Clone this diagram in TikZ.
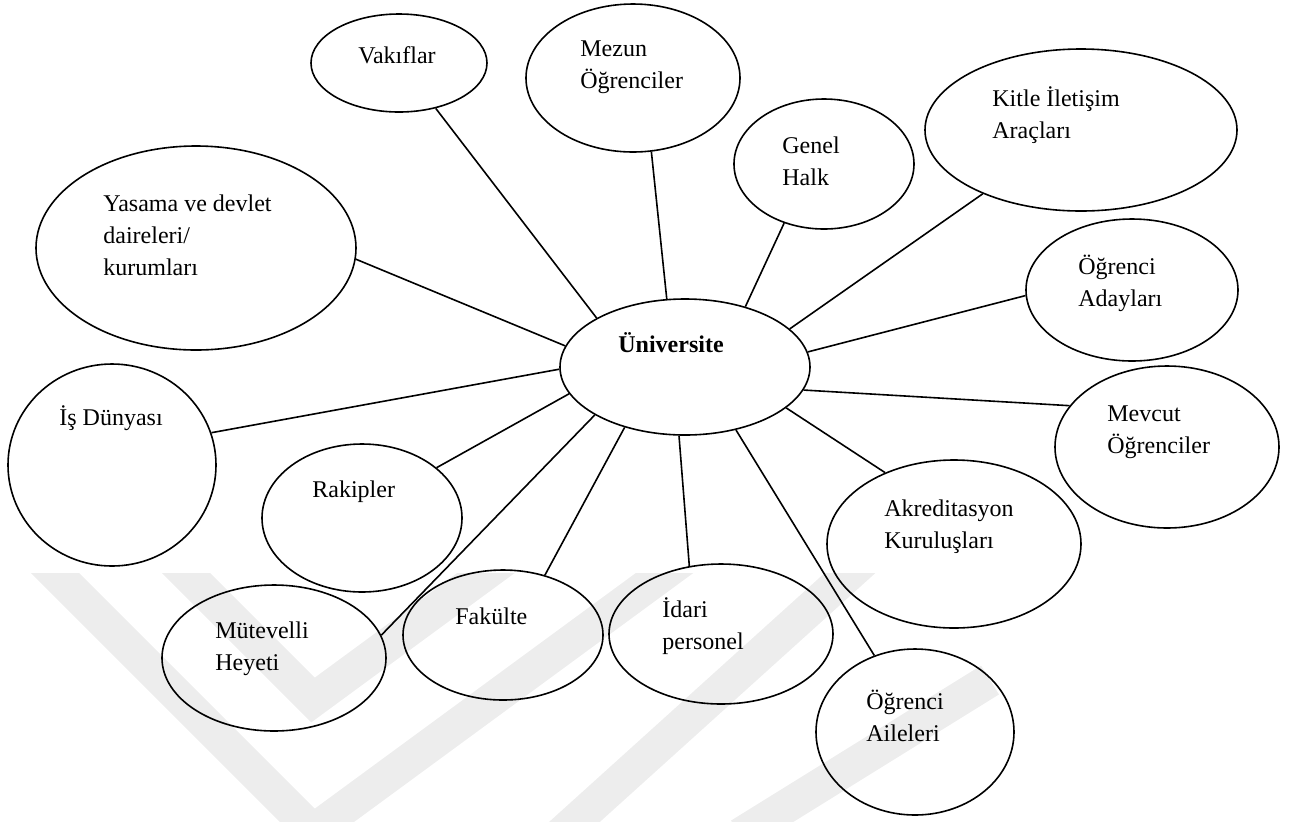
\documentclass[tikz,border=0pt]{standalone}
\usepackage{fontspec}
\setmainfont{Liberation Serif}
\usetikzlibrary{shapes.geometric}

\tikzset{
  stake/.style={draw, ellipse, line width=0.8pt, inner sep=0pt},
  lbl/.style={anchor=west, align=left, inner sep=0pt, font=\fontsize{12}{16}\selectfont},
  link/.style={line width=0.8pt},
  mark stripe/.style={line width=17pt, draw=black!7, line join=miter}
}

\begin{document}
\begin{tikzpicture}
      [x=0.5pt,y=-0.5pt]
      \useasboundingbox (0,0) rectangle (1297,821);
      \begin{scope}
        \clip (0,573) rectangle (1297,821);
        \draw[mark stripe] (0,518) -- (313,831) -- (700,547);
        \draw[mark stripe] (131,518) -- (313,700) -- (520,548);
        \draw[mark stripe] (560,835) -- (870,555);
        \draw[mark stripe] (740,835) -- (990,680);
      \end{scope}

      \node[stake,minimum width=125pt,minimum height=68pt] (uni) at (685,367) {};
      \node[lbl,font=\fontsize{12}{16}\selectfont\bfseries] (uni-t) at (618,343) {Üniversite};

      \node[stake,minimum width=88pt,minimum height=49pt] (vakif) at (399,63) {};
      \node[lbl] (vakif-t) at (358,55) {Vakıflar};
      \node[stake,minimum width=107pt,minimum height=74pt] (mezun) at (633,78) {};
      \node[lbl] (mezun-t) at (580,67) {Mezun\\Öğrenciler};
      \node[stake,minimum width=90pt,minimum height=65pt] (halk) at (824,164) {};
      \node[lbl] (halk-t) at (782,161) {Genel\\Halk};
      \node[stake,minimum width=156pt,minimum height=81pt] (kitle) at (1081,130) {};
      \node[lbl] (kitle-t) at (992,115) {Kitle İletişim\\Araçları};
      \node[stake,minimum width=160pt,minimum height=102pt] (yasama) at (196,248) {};
      \node[lbl] (yasama-t) at (103,235) {Yasama ve devlet\\daireleri/\\kurumları};
      \node[stake,minimum width=106pt,minimum height=71pt] (aday) at (1132,290) {};
      \node[lbl] (aday-t) at (1078,283) {Öğrenci\\Adayları};
      \node[stake,minimum width=104pt,minimum height=101pt] (is) at (112,465) {};
      \node[lbl] (is-t) at (59,418) {İş Dünyası};
      \node[stake,minimum width=112pt,minimum height=81pt] (mevcut) at (1167,447) {};
      \node[lbl] (mevcut-t) at (1107,432) {Mevcut\\Öğrenciler};
      \node[stake,minimum width=100pt,minimum height=74pt] (rakip) at (362,518) {};
      \node[lbl] (rakip-t) at (312,492) {Rakipler};
      \node[stake,minimum width=127pt,minimum height=84pt] (akred) at (954,544) {};
      \node[lbl] (akred-t) at (884,527) {Akreditasyon\\Kuruluşları};
      \node[stake,minimum width=112pt,minimum height=73pt] (mutev) at (274,658) {};
      \node[lbl] (mutev-t) at (215,649) {Mütevelli\\Heyeti};
      \node[stake,minimum width=100pt,minimum height=65pt] (fakulte) at (503,635) {};
      \node[lbl] (fakulte-t) at (455,616) {Fakülte};
      \node[stake,minimum width=112pt,minimum height=70pt] (idari) at (721,634) {};
      \node[lbl] (idari-t) at (662,626) {İdari\\personel};
      \node[stake,minimum width=99pt,minimum height=83pt] (aile) at (915,732) {};
      \node[lbl] (aile-t) at (866,716) {Öğrenci\\Aileleri};

      \draw[link] (vakif.-51) -- (uni.151);
      \draw[link] (mezun.-76) -- (uni.105);
      \draw[link] (halk.236) -- (uni.45);
      \draw[link] (kitle.213) -- (uni.20);
      \draw[link] (aday.183) -- (uni.7);
      \draw[link] (yasama.-4) -- (uni.170);
      \draw[link] (is.18) -- (uni.181);
      \draw[link] (rakip.34) -- (uni.193);
      \draw[link] (mevcut.157) -- (uni.-11);
      \draw[link] (mutev.12) -- (uni.208);
      \draw[link] (fakulte.55) -- (uni.225);
      \draw[link] (idari.115) -- (uni.265);
      \draw[link] (aile.118) -- (uni.-51);
      \draw[link] (akred.134) -- (uni.-22);
\end{tikzpicture}
\end{document}
